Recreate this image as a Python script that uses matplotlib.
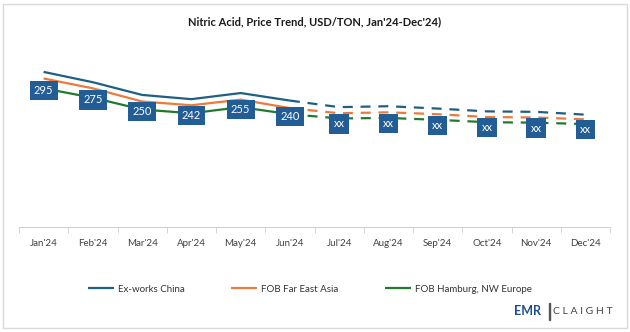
import numpy as np
import matplotlib.pyplot as plt
from matplotlib.patches import Rectangle

plt.rcParams['font.family'] = ['Lato', 'DejaVu Sans']

months = ["Jan'24", "Feb'24", "Mar'24", "Apr'24", "May'24", "Jun'24",
          "Jul'24", "Aug'24", "Sep'24", "Oct'24", "Nov'24", "Dec'24"]

# prices, USD/TON (Jan-Jun actual, Jul-Dec forecast)
china = [330, 308, 281, 272, 285, 269, 255, 257, 252, 246, 245, 239]
far_east = [316, 295, 267, 259, 271, 253, 242, 244, 240, 234, 233, 229]
hamburg = [295, 275, 250, 242, 255, 240, 231, 232, 228, 223, 222, 219]

labels = ['295', '275', '250', '242', '255', '240', 'xx', 'xx', 'xx', 'xx', 'xx', 'xx']

series = [('Ex-works China', china, '#1f5f86'),
          ('FOB Far East Asia', far_east, '#ee7a3a'),
          ('FOB Hamburg, NW Europe', hamburg, '#217a2c')]

n_actual = 6
box_color = '#235d96'

fig = plt.figure(figsize=(6.3, 3.32), dpi=100)
ax = fig.add_axes([19 / 630, 1 - 227 / 332, 591 / 630, 188 / 332])

x = np.arange(len(months))
for name, values, color in series:
    ax.plot(x[:n_actual], values[:n_actual], color=color, lw=1.6, label=name,
            solid_capstyle='butt')
    ax.plot(x[n_actual - 1:], values[n_actual - 1:], color=color, lw=1.6,
            dashes=(4.5, 3.5), dash_capstyle='butt')

# data labels sit on the Hamburg series
for i, lab in enumerate(labels):
    offset = -1.5 if i < n_actual else -4
    ax.annotate(lab, (x[i], hamburg[i]), xytext=(0, offset), textcoords='offset points',
                ha='center', va='center', color='white', fontsize=8,
                bbox=dict(boxstyle='square,pad=0.38', fc=box_color, ec='none'))

ax.set_xlim(-0.5, 11.5)
ax.set_ylim(0, 400)
ax.set_yticks([])
for side in ['top', 'right', 'left']:
    ax.spines[side].set_visible(False)
ax.spines['bottom'].set_color('#d0d0d0')
ax.set_xticks(x)
ax.set_xticklabels(months, fontsize=7, color='#404040')
ax.set_xticks(np.arange(-0.5, 12, 1), minor=True)
ax.tick_params(axis='x', which='major', length=0, pad=9)
ax.tick_params(axis='x', which='minor', length=4, color='#d0d0d0')

fig.text(0.5, 1 - 22 / 332, "Nitric Acid, Price Trend, USD/TON, Jan'24-Dec'24)",
         ha='center', va='center', fontsize=8, fontweight='bold', color='#1a1a1a')

leg = fig.legend(loc='center left', bbox_to_anchor=(88 / 630, 1 - 289 / 332), ncol=3,
                 frameon=False, fontsize=7, handlelength=2.7, handletextpad=0.4,
                 columnspacing=4.75, borderpad=0, borderaxespad=0)
for t in leg.get_texts():
    t.set_color('#333333')

# logo
fig.text(514 / 630, 1 - 311 / 332, 'EMR', fontsize=9, fontweight='bold',
         color='#1d4f8c', va='center', ha='left')
fig.add_artist(Rectangle((549 / 630, 1 - 320 / 332), 0.8 / 630, 17 / 332,
                         transform=fig.transFigure, color='#555555'))
fig.text(553 / 630, 1 - 311 / 332, 'C L A I G H T', fontsize=7.5,
         color='#444444', va='center', ha='left')

# outer border
fig.add_artist(Rectangle((3 / 630, 4 / 332), 624 / 630, 324 / 332,
                         transform=fig.transFigure, fill=False,
                         ec='#d9d9d9', lw=1))

fig.savefig('out.png', dpi=100)
